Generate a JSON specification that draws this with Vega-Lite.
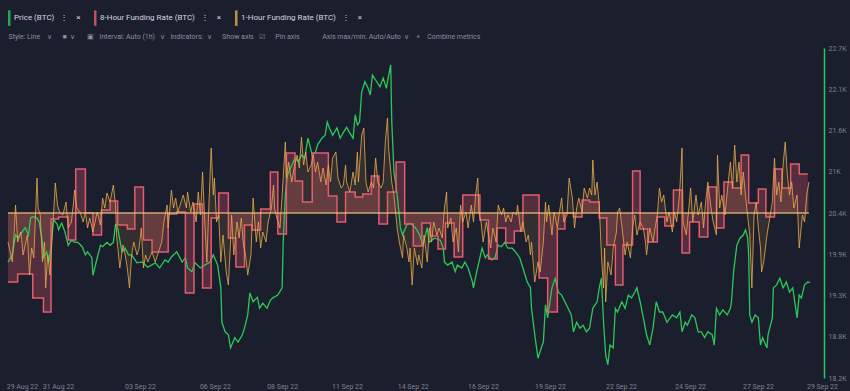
{
"$schema":"https://vega.github.io/schema/vega-lite/v6.json",
"width":816,"height":330,
"autosize":{"type":"none"},
"padding":{"left":8,"top":48,"right":26,"bottom":13},
"background":"#1b1e2c",
"config":{"view":{"stroke":null},"font":"Roboto","axis":{"grid":false}},
"datasets":{
"price":[
{"t":"2022-08-29T08:00","p":19780},{"t":"2022-08-29T12:00","p":19880},{"t":"2022-08-29T15:00","p":20150},{"t":"2022-08-29T17:00","p":20110},{"t":"2022-08-29T21:00","p":20190},
{"t":"2022-08-30T00:00","p":20250},{"t":"2022-08-30T03:00","p":20150},{"t":"2022-08-30T05:00","p":20380},{"t":"2022-08-30T07:00","p":20400},{"t":"2022-08-30T11:00","p":20380},{"t":"2022-08-30T13:00","p":20330},{"t":"2022-08-30T16:00","p":20050},{"t":"2022-08-30T17:00","p":19840},{"t":"2022-08-30T20:00","p":19920},{"t":"2022-08-30T22:00","p":19780},
{"t":"2022-08-31T00:00","p":20010},{"t":"2022-08-31T02:00","p":20330},{"t":"2022-08-31T03:00","p":20350},{"t":"2022-08-31T06:00","p":20290},{"t":"2022-08-31T07:00","p":20220},{"t":"2022-08-31T10:00","p":20310},{"t":"2022-08-31T13:00","p":20190},{"t":"2022-08-31T16:00","p":20010},{"t":"2022-08-31T19:00","p":20080},{"t":"2022-08-31T22:00","p":20050},
{"t":"2022-09-01T01:00","p":20050},{"t":"2022-09-01T05:00","p":19990},{"t":"2022-09-01T08:00","p":19880},{"t":"2022-09-01T10:00","p":19920},{"t":"2022-09-01T14:00","p":19840},{"t":"2022-09-01T15:00","p":19600},{"t":"2022-09-01T19:00","p":19840},{"t":"2022-09-01T22:00","p":20010},
{"t":"2022-09-02T00:00","p":19990},{"t":"2022-09-02T04:00","p":20050},{"t":"2022-09-02T07:00","p":20010},{"t":"2022-09-02T10:00","p":20050},{"t":"2022-09-02T12:00","p":20290},{"t":"2022-09-02T14:00","p":20250},{"t":"2022-09-02T18:00","p":19920},{"t":"2022-09-02T21:00","p":19970},
{"t":"2022-09-03T00:00","p":19880},{"t":"2022-09-03T03:00","p":19880},{"t":"2022-09-03T08:00","p":19770},{"t":"2022-09-03T11:00","p":19780},{"t":"2022-09-03T13:00","p":19780},{"t":"2022-09-03T18:00","p":19710},
{"t":"2022-09-04T01:00","p":19770},{"t":"2022-09-04T05:00","p":19700},{"t":"2022-09-04T10:00","p":19810},{"t":"2022-09-04T13:00","p":19780},{"t":"2022-09-04T16:00","p":19850},{"t":"2022-09-04T21:00","p":19920},
{"t":"2022-09-05T02:00","p":19780},{"t":"2022-09-05T05:00","p":19840},{"t":"2022-09-05T07:00","p":19700},{"t":"2022-09-05T11:00","p":19650},{"t":"2022-09-05T14:00","p":19770},{"t":"2022-09-05T19:00","p":19700},{"t":"2022-09-05T23:00","p":19740},
{"t":"2022-09-06T04:00","p":19780},{"t":"2022-09-06T07:00","p":19880},{"t":"2022-09-06T11:00","p":19740},{"t":"2022-09-06T14:00","p":19430},{"t":"2022-09-06T15:00","p":18960},{"t":"2022-09-06T18:00","p":18830},{"t":"2022-09-06T21:00","p":18790},{"t":"2022-09-06T23:00","p":18610},
{"t":"2022-09-07T03:00","p":18750},{"t":"2022-09-07T06:00","p":18690},{"t":"2022-09-07T10:00","p":18790},{"t":"2022-09-07T12:00","p":18880},{"t":"2022-09-07T15:00","p":19060},{"t":"2022-09-07T17:00","p":19360},{"t":"2022-09-07T20:00","p":19240},
{"t":"2022-09-08T00:00","p":19300},{"t":"2022-09-08T02:00","p":19150},{"t":"2022-09-08T05:00","p":19220},{"t":"2022-09-08T09:00","p":19150},{"t":"2022-09-08T12:00","p":19260},{"t":"2022-09-08T14:00","p":19290},{"t":"2022-09-08T19:00","p":19330},{"t":"2022-09-08T23:00","p":19430},
{"t":"2022-09-09T00:00","p":20050},{"t":"2022-09-09T02:00","p":20700},{"t":"2022-09-09T04:00","p":20970},{"t":"2022-09-09T08:00","p":21100},{"t":"2022-09-09T11:00","p":21200},{"t":"2022-09-09T14:00","p":21150},{"t":"2022-09-09T17:00","p":21240},{"t":"2022-09-09T20:00","p":21200},{"t":"2022-09-09T23:00","p":21470},
{"t":"2022-09-10T03:00","p":21240},{"t":"2022-09-10T06:00","p":21280},{"t":"2022-09-10T08:00","p":21380},{"t":"2022-09-10T12:00","p":21470},{"t":"2022-09-10T15:00","p":21510},{"t":"2022-09-10T17:00","p":21690},{"t":"2022-09-10T19:00","p":21610},{"t":"2022-09-10T22:00","p":21510},
{"t":"2022-09-11T02:00","p":21610},{"t":"2022-09-11T05:00","p":21470},{"t":"2022-09-11T08:00","p":21550},{"t":"2022-09-11T11:00","p":21620},{"t":"2022-09-11T14:00","p":21540},{"t":"2022-09-11T17:00","p":21470},{"t":"2022-09-11T19:00","p":21790},{"t":"2022-09-11T21:00","p":21650},{"t":"2022-09-11T23:00","p":21690},
{"t":"2022-09-12T01:00","p":22100},{"t":"2022-09-12T04:00","p":22240},{"t":"2022-09-12T07:00","p":22150},{"t":"2022-09-12T09:00","p":22060},{"t":"2022-09-12T11:00","p":22330},{"t":"2022-09-12T15:00","p":22240},{"t":"2022-09-12T18:00","p":22170},{"t":"2022-09-12T21:00","p":22290},
{"t":"2022-09-13T00:00","p":22150},{"t":"2022-09-13T01:00","p":22240},{"t":"2022-09-13T04:00","p":22470},{"t":"2022-09-13T05:00","p":21690},{"t":"2022-09-13T07:00","p":21010},{"t":"2022-09-13T10:00","p":20700},{"t":"2022-09-13T13:00","p":20250},{"t":"2022-09-13T15:00","p":20150},{"t":"2022-09-13T19:00","p":20290},{"t":"2022-09-13T22:00","p":20310},
{"t":"2022-09-14T03:00","p":20250},{"t":"2022-09-14T07:00","p":20150},{"t":"2022-09-14T10:00","p":20010},{"t":"2022-09-14T14:00","p":20250},{"t":"2022-09-14T16:00","p":20050},{"t":"2022-09-14T21:00","p":20110},
{"t":"2022-09-15T02:00","p":20080},{"t":"2022-09-15T05:00","p":19970},{"t":"2022-09-15T06:00","p":19780},{"t":"2022-09-15T09:00","p":19740},{"t":"2022-09-15T13:00","p":19780},{"t":"2022-09-15T16:00","p":19650},{"t":"2022-09-15T18:00","p":19740},{"t":"2022-09-15T22:00","p":19700},
{"t":"2022-09-16T01:00","p":19780},{"t":"2022-09-16T04:00","p":19700},{"t":"2022-09-16T08:00","p":19510},{"t":"2022-09-16T09:00","p":19430},{"t":"2022-09-16T12:00","p":19650},{"t":"2022-09-16T15:00","p":19840},{"t":"2022-09-16T17:00","p":19970},{"t":"2022-09-16T20:00","p":19840},{"t":"2022-09-16T22:00","p":19880},
{"t":"2022-09-17T02:00","p":19810},{"t":"2022-09-17T05:00","p":19840},{"t":"2022-09-17T08:00","p":20010},{"t":"2022-09-17T11:00","p":19990},{"t":"2022-09-17T14:00","p":20050},{"t":"2022-09-17T17:00","p":19970},{"t":"2022-09-17T21:00","p":19970},
{"t":"2022-09-18T00:00","p":19920},{"t":"2022-09-18T04:00","p":19840},{"t":"2022-09-18T07:00","p":19700},{"t":"2022-09-18T11:00","p":19510},{"t":"2022-09-18T14:00","p":19430},{"t":"2022-09-18T15:00","p":19150},{"t":"2022-09-18T18:00","p":18790},{"t":"2022-09-18T21:00","p":18470},
{"t":"2022-09-19T00:00","p":18610},{"t":"2022-09-19T02:00","p":18690},{"t":"2022-09-19T04:00","p":19200},{"t":"2022-09-19T06:00","p":19020},{"t":"2022-09-19T10:00","p":19430},{"t":"2022-09-19T13:00","p":19560},{"t":"2022-09-19T16:00","p":19370},{"t":"2022-09-19T19:00","p":19330},{"t":"2022-09-19T22:00","p":19240},
{"t":"2022-09-20T01:00","p":19150},{"t":"2022-09-20T04:00","p":19060},{"t":"2022-09-20T06:00","p":18830},{"t":"2022-09-20T09:00","p":18960},{"t":"2022-09-20T12:00","p":18880},{"t":"2022-09-20T15:00","p":18920},{"t":"2022-09-20T18:00","p":18830},{"t":"2022-09-20T21:00","p":18880},
{"t":"2022-09-21T00:00","p":19150},{"t":"2022-09-21T04:00","p":19240},{"t":"2022-09-21T06:00","p":19430},{"t":"2022-09-21T08:00","p":19560},{"t":"2022-09-21T10:00","p":18960},{"t":"2022-09-21T12:00","p":18510},{"t":"2022-09-21T14:00","p":18380},{"t":"2022-09-21T16:00","p":18650},{"t":"2022-09-21T19:00","p":18610},{"t":"2022-09-21T21:00","p":19150},{"t":"2022-09-21T23:00","p":19100},
{"t":"2022-09-22T03:00","p":19240},{"t":"2022-09-22T06:00","p":19150},{"t":"2022-09-22T09:00","p":19330},{"t":"2022-09-22T12:00","p":19290},{"t":"2022-09-22T15:00","p":19370},{"t":"2022-09-22T17:00","p":19430},{"t":"2022-09-22T20:00","p":19240},{"t":"2022-09-22T23:00","p":19020},
{"t":"2022-09-23T02:00","p":18790},{"t":"2022-09-23T05:00","p":18650},{"t":"2022-09-23T08:00","p":18880},{"t":"2022-09-23T11:00","p":19240},{"t":"2022-09-23T14:00","p":19100},{"t":"2022-09-23T17:00","p":19100},{"t":"2022-09-23T21:00","p":18960},
{"t":"2022-09-24T00:00","p":19020},{"t":"2022-09-24T02:00","p":19060},{"t":"2022-09-24T06:00","p":19020},{"t":"2022-09-24T09:00","p":19100},{"t":"2022-09-24T11:00","p":18830},{"t":"2022-09-24T14:00","p":18960},{"t":"2022-09-24T16:00","p":18920},{"t":"2022-09-24T20:00","p":19060},{"t":"2022-09-24T23:00","p":19020},
{"t":"2022-09-25T02:00","p":18830},{"t":"2022-09-25T05:00","p":18830},{"t":"2022-09-25T08:00","p":18750},{"t":"2022-09-25T11:00","p":18830},{"t":"2022-09-25T15:00","p":18790},{"t":"2022-09-25T17:00","p":18650},{"t":"2022-09-25T19:00","p":19150},{"t":"2022-09-25T22:00","p":19060},
{"t":"2022-09-26T01:00","p":19130},{"t":"2022-09-26T05:00","p":19060},{"t":"2022-09-26T08:00","p":19150},{"t":"2022-09-26T09:00","p":19240},{"t":"2022-09-26T11:00","p":19650},{"t":"2022-09-26T14:00","p":20010},{"t":"2022-09-26T17:00","p":20110},{"t":"2022-09-26T20:00","p":20150},{"t":"2022-09-26T22:00","p":20220},
{"t":"2022-09-27T00:00","p":20120},{"t":"2022-09-27T01:00","p":19880},{"t":"2022-09-27T02:00","p":19060},{"t":"2022-09-27T04:00","p":18960},{"t":"2022-09-27T07:00","p":19060},{"t":"2022-09-27T10:00","p":19020},{"t":"2022-09-27T12:00","p":18650},{"t":"2022-09-27T14:00","p":18750},{"t":"2022-09-27T18:00","p":18610},{"t":"2022-09-27T19:00","p":18790},{"t":"2022-09-27T23:00","p":19020},
{"t":"2022-09-28T00:00","p":19430},{"t":"2022-09-28T03:00","p":19470},{"t":"2022-09-28T06:00","p":19560},{"t":"2022-09-28T09:00","p":19430},{"t":"2022-09-28T12:00","p":19510},{"t":"2022-09-28T15:00","p":19370},{"t":"2022-09-28T18:00","p":19430},{"t":"2022-09-28T22:00","p":19020},
{"t":"2022-09-29T00:00","p":19330},{"t":"2022-09-29T02:00","p":19290},{"t":"2022-09-29T05:00","p":19470},{"t":"2022-09-29T08:00","p":19510},{"t":"2022-09-29T10:00","p":19500}
],
"f8":[
{"t":"2022-08-29T08:00","f":-0.0138},{"t":"2022-08-29T17:00","f":-0.0122},{"t":"2022-08-30T07:00","f":-0.017},{"t":"2022-08-30T17:00","f":-0.0198},{"t":"2022-08-31T00:00","f":-0.0012},{"t":"2022-08-31T07:00","f":-0.0008},{"t":"2022-08-31T16:00","f":-0.0054},{"t":"2022-08-31T23:00","f":0.0088},
{"t":"2022-09-01T08:00","f":0.0},{"t":"2022-09-01T15:00","f":-0.0044},{"t":"2022-09-01T23:00","f":0.0006},{"t":"2022-09-02T07:00","f":0.0024},{"t":"2022-09-02T14:00","f":-0.0024},{"t":"2022-09-02T23:00","f":-0.0032},{"t":"2022-09-03T06:00","f":0.0052},{"t":"2022-09-03T14:00","f":-0.0054},{"t":"2022-09-03T22:00","f":-0.0078},
{"t":"2022-09-04T13:00","f":-0.0002},{"t":"2022-09-04T21:00","f":0.0002},{"t":"2022-09-05T05:00","f":-0.016},{"t":"2022-09-05T13:00","f":0.0018},{"t":"2022-09-05T21:00","f":-0.015},{"t":"2022-09-06T05:00","f":-0.001},{"t":"2022-09-06T12:00","f":0.004},{"t":"2022-09-06T21:00","f":-0.005},
{"t":"2022-09-07T04:00","f":-0.0108},{"t":"2022-09-07T12:00","f":-0.0024},{"t":"2022-09-07T19:00","f":-0.0034},{"t":"2022-09-08T03:00","f":0.0008},{"t":"2022-09-08T12:00","f":0.0082},{"t":"2022-09-08T19:00","f":-0.0042},{"t":"2022-09-09T03:00","f":0.012},{"t":"2022-09-09T11:00","f":0.0064},{"t":"2022-09-09T18:00","f":0.0022},
{"t":"2022-09-10T03:00","f":0.012},{"t":"2022-09-10T18:00","f":0.0034},{"t":"2022-09-11T02:00","f":-0.0018},{"t":"2022-09-11T10:00","f":0.0042},{"t":"2022-09-11T19:00","f":0.0032},{"t":"2022-09-12T02:00","f":0.0038},{"t":"2022-09-12T10:00","f":0.0074},{"t":"2022-09-12T17:00","f":-0.0022},
{"t":"2022-09-13T01:00","f":0.0042},{"t":"2022-09-13T09:00","f":0.0102},{"t":"2022-09-13T17:00","f":-0.0022},{"t":"2022-09-14T01:00","f":-0.0066},{"t":"2022-09-14T09:00","f":-0.002},{"t":"2022-09-14T17:00","f":-0.0046},{"t":"2022-09-15T00:00","f":-0.0072},{"t":"2022-09-15T07:00","f":-0.002},{"t":"2022-09-15T15:00","f":-0.0088},{"t":"2022-09-15T23:00","f":0.0036},
{"t":"2022-09-16T15:00","f":-0.0014},{"t":"2022-09-16T23:00","f":-0.0092},{"t":"2022-09-17T07:00","f":-0.003},{"t":"2022-09-17T15:00","f":-0.006},{"t":"2022-09-17T23:00","f":-0.0036},{"t":"2022-09-18T07:00","f":0.0036},{"t":"2022-09-18T22:00","f":-0.013},
{"t":"2022-09-19T06:00","f":-0.0198},{"t":"2022-09-19T15:00","f":-0.0032},{"t":"2022-09-19T22:00","f":0.0},{"t":"2022-09-20T06:00","f":-0.0008},{"t":"2022-09-20T14:00","f":0.0026},{"t":"2022-09-20T21:00","f":0.0022},
{"t":"2022-09-21T06:00","f":-0.001},{"t":"2022-09-21T13:00","f":-0.0064},{"t":"2022-09-21T21:00","f":-0.0144},{"t":"2022-09-22T04:00","f":-0.0064},{"t":"2022-09-22T13:00","f":0.0084},{"t":"2022-09-22T20:00","f":-0.0032},
{"t":"2022-09-23T03:00","f":-0.0058},{"t":"2022-09-23T12:00","f":-0.0008},{"t":"2022-09-23T19:00","f":-0.0026},{"t":"2022-09-24T03:00","f":0.0046},{"t":"2022-09-24T11:00","f":-0.008},{"t":"2022-09-24T18:00","f":-0.0018},
{"t":"2022-09-25T03:00","f":-0.0048},{"t":"2022-09-25T11:00","f":0.0052},{"t":"2022-09-25T19:00","f":-0.003},{"t":"2022-09-26T02:00","f":0.0062},{"t":"2022-09-26T10:00","f":0.005},{"t":"2022-09-26T18:00","f":0.0116},
{"t":"2022-09-27T01:00","f":0.002},{"t":"2022-09-27T10:00","f":0.0048},{"t":"2022-09-27T17:00","f":-0.0008},{"t":"2022-09-28T01:00","f":0.0088},{"t":"2022-09-28T08:00","f":0.005},{"t":"2022-09-28T16:00","f":0.0098},{"t":"2022-09-29T00:00","f":0.0078},{"t":"2022-09-29T08:00","f":0.0078}
],
"f1":[
{"t":"2022-08-29T08:00","f":-0.0058},{"t":"2022-08-29T12:00","f":-0.0098},{"t":"2022-08-29T14:00","f":-0.003},{"t":"2022-08-29T15:00","f":0.0016},{"t":"2022-08-29T17:00","f":-0.0058},{"t":"2022-08-29T20:00","f":-0.0038},{"t":"2022-08-29T22:00","f":-0.0084},
{"t":"2022-08-30T02:00","f":-0.0044},{"t":"2022-08-30T04:00","f":-0.0124},{"t":"2022-08-30T06:00","f":-0.007},{"t":"2022-08-30T08:00","f":-0.009},{"t":"2022-08-30T11:00","f":0.007},{"t":"2022-08-30T12:00","f":0.001},{"t":"2022-08-30T14:00","f":-0.0004},{"t":"2022-08-30T16:00","f":-0.0098},{"t":"2022-08-30T18:00","f":-0.0058},{"t":"2022-08-30T19:00","f":-0.015},{"t":"2022-08-30T21:00","f":-0.0084},{"t":"2022-08-30T23:00","f":-0.0124},
{"t":"2022-08-31T02:00","f":-0.0018},{"t":"2022-08-31T04:00","f":0.006},{"t":"2022-08-31T06:00","f":0.0016},{"t":"2022-08-31T08:00","f":0.0002},{"t":"2022-08-31T11:00","f":-0.0004},{"t":"2022-08-31T14:00","f":0.0022},{"t":"2022-08-31T16:00","f":-0.003},{"t":"2022-08-31T19:00","f":-0.0018},{"t":"2022-08-31T21:00","f":0.0022},{"t":"2022-08-31T22:00","f":0.0046},
{"t":"2022-09-01T00:00","f":0.001},{"t":"2022-09-01T03:00","f":0.0002},{"t":"2022-09-01T06:00","f":-0.0018},{"t":"2022-09-01T08:00","f":0.0002},{"t":"2022-09-01T10:00","f":-0.003},{"t":"2022-09-01T12:00","f":-0.001},{"t":"2022-09-01T15:00","f":-0.0038},{"t":"2022-09-01T17:00","f":-0.0018},{"t":"2022-09-01T19:00","f":0.0002},{"t":"2022-09-01T22:00","f":-0.0024},
{"t":"2022-09-02T00:00","f":0.003},{"t":"2022-09-02T02:00","f":0.001},{"t":"2022-09-02T04:00","f":0.004},{"t":"2022-09-02T07:00","f":0.0022},{"t":"2022-09-02T10:00","f":0.0056},{"t":"2022-09-02T12:00","f":0.0016},{"t":"2022-09-02T13:00","f":-0.0044},{"t":"2022-09-02T16:00","f":-0.011},{"t":"2022-09-02T19:00","f":-0.0064},{"t":"2022-09-02T21:00","f":-0.0084},{"t":"2022-09-02T23:00","f":-0.011},
{"t":"2022-09-03T01:00","f":-0.015},{"t":"2022-09-03T03:00","f":-0.0084},{"t":"2022-09-03T05:00","f":-0.0058},{"t":"2022-09-03T08:00","f":-0.0084},{"t":"2022-09-03T10:00","f":-0.007},{"t":"2022-09-03T12:00","f":-0.003},{"t":"2022-09-03T14:00","f":-0.011},{"t":"2022-09-03T16:00","f":-0.0084},{"t":"2022-09-03T18:00","f":-0.0098},{"t":"2022-09-03T22:00","f":-0.0078},
{"t":"2022-09-04T01:00","f":-0.0098},{"t":"2022-09-04T04:00","f":-0.0078},{"t":"2022-09-04T07:00","f":-0.0058},{"t":"2022-09-04T09:00","f":-0.0018},{"t":"2022-09-04T12:00","f":0.0016},{"t":"2022-09-04T13:00","f":-0.003},{"t":"2022-09-04T16:00","f":0.0046},{"t":"2022-09-04T18:00","f":0.001},{"t":"2022-09-04T20:00","f":0.003},{"t":"2022-09-04T22:00","f":0.0002},
{"t":"2022-09-05T01:00","f":0.0022},{"t":"2022-09-05T03:00","f":0.0036},{"t":"2022-09-05T06:00","f":0.001},{"t":"2022-09-05T07:00","f":0.0042},{"t":"2022-09-05T10:00","f":0.0002},{"t":"2022-09-05T12:00","f":0.0022},{"t":"2022-09-05T15:00","f":-0.0018},{"t":"2022-09-05T17:00","f":0.0042},{"t":"2022-09-05T19:00","f":-0.0004},{"t":"2022-09-05T21:00","f":0.0082},{"t":"2022-09-05T23:00","f":-0.0018},
{"t":"2022-09-06T01:00","f":-0.0098},{"t":"2022-09-06T03:00","f":0.0022},{"t":"2022-09-06T05:00","f":0.013},{"t":"2022-09-06T07:00","f":0.0036},{"t":"2022-09-06T08:00","f":0.007},{"t":"2022-09-06T10:00","f":-0.0018},{"t":"2022-09-06T12:00","f":-0.0004},{"t":"2022-09-06T14:00","f":-0.0098},{"t":"2022-09-06T16:00","f":-0.0044},{"t":"2022-09-06T19:00","f":-0.0118},{"t":"2022-09-06T21:00","f":-0.0144},{"t":"2022-09-06T23:00","f":-0.0058},
{"t":"2022-09-07T00:00","f":-0.0004},{"t":"2022-09-07T02:00","f":-0.0084},{"t":"2022-09-07T05:00","f":-0.0018},{"t":"2022-09-07T07:00","f":-0.005},{"t":"2022-09-07T09:00","f":-0.001},{"t":"2022-09-07T11:00","f":-0.0064},{"t":"2022-09-07T13:00","f":-0.0084},{"t":"2022-09-07T15:00","f":-0.0124},{"t":"2022-09-07T18:00","f":-0.0084},{"t":"2022-09-07T20:00","f":0.003},{"t":"2022-09-07T23:00","f":-0.0058},
{"t":"2022-09-08T01:00","f":-0.0018},{"t":"2022-09-08T03:00","f":-0.007},{"t":"2022-09-08T05:00","f":-0.0038},{"t":"2022-09-08T08:00","f":-0.0058},{"t":"2022-09-08T10:00","f":-0.0018},{"t":"2022-09-08T13:00","f":0.001},{"t":"2022-09-08T15:00","f":0.0056},{"t":"2022-09-08T16:00","f":0.001},{"t":"2022-09-08T18:00","f":-0.001},{"t":"2022-09-08T21:00","f":-0.003},{"t":"2022-09-08T23:00","f":0.0036},
{"t":"2022-09-09T02:00","f":0.0142},{"t":"2022-09-09T03:00","f":0.007},{"t":"2022-09-09T05:00","f":0.0102},{"t":"2022-09-09T08:00","f":0.0062},{"t":"2022-09-09T10:00","f":0.009},{"t":"2022-09-09T13:00","f":0.0116},{"t":"2022-09-09T15:00","f":0.009},{"t":"2022-09-09T17:00","f":0.0152},{"t":"2022-09-09T19:00","f":0.0096},{"t":"2022-09-09T21:00","f":0.0122},{"t":"2022-09-09T23:00","f":0.0082},
{"t":"2022-09-10T02:00","f":0.0096},{"t":"2022-09-10T04:00","f":0.0116},{"t":"2022-09-10T06:00","f":0.0082},{"t":"2022-09-10T08:00","f":0.0102},{"t":"2022-09-10T11:00","f":0.0062},{"t":"2022-09-10T13:00","f":0.009},{"t":"2022-09-10T16:00","f":0.0056},{"t":"2022-09-10T18:00","f":0.0096},{"t":"2022-09-10T20:00","f":0.0062},{"t":"2022-09-10T22:00","f":0.011},
{"t":"2022-09-11T01:00","f":0.0122},{"t":"2022-09-11T03:00","f":0.007},{"t":"2022-09-11T06:00","f":0.005},{"t":"2022-09-11T08:00","f":0.0056},{"t":"2022-09-11T10:00","f":0.0096},{"t":"2022-09-11T11:00","f":0.0062},{"t":"2022-09-11T14:00","f":0.0042},{"t":"2022-09-11T17:00","f":0.0082},{"t":"2022-09-11T19:00","f":0.0056},{"t":"2022-09-11T21:00","f":0.0122},{"t":"2022-09-11T22:00","f":0.0062},
{"t":"2022-09-12T01:00","f":0.0156},{"t":"2022-09-12T03:00","f":0.017},{"t":"2022-09-12T05:00","f":0.0062},{"t":"2022-09-12T07:00","f":0.0042},{"t":"2022-09-12T10:00","f":0.0062},{"t":"2022-09-12T12:00","f":0.005},{"t":"2022-09-12T14:00","f":0.011},{"t":"2022-09-12T16:00","f":0.0062},{"t":"2022-09-12T19:00","f":0.005},{"t":"2022-09-12T21:00","f":0.0062},{"t":"2022-09-12T23:00","f":0.0142},
{"t":"2022-09-13T01:00","f":0.019},{"t":"2022-09-13T02:00","f":0.013},{"t":"2022-09-13T05:00","f":0.0062},{"t":"2022-09-13T07:00","f":0.0036},{"t":"2022-09-13T10:00","f":-0.003},{"t":"2022-09-13T12:00","f":-0.0058},{"t":"2022-09-13T15:00","f":-0.009},{"t":"2022-09-13T16:00","f":-0.0044},{"t":"2022-09-13T19:00","f":-0.007},{"t":"2022-09-13T21:00","f":-0.0098},{"t":"2022-09-13T22:00","f":-0.007},
{"t":"2022-09-14T00:00","f":-0.0144},{"t":"2022-09-14T02:00","f":-0.007},{"t":"2022-09-14T05:00","f":-0.0104},{"t":"2022-09-14T06:00","f":-0.0084},{"t":"2022-09-14T09:00","f":-0.011},{"t":"2022-09-14T11:00","f":-0.0044},{"t":"2022-09-14T14:00","f":-0.0098},{"t":"2022-09-14T16:00","f":-0.003},{"t":"2022-09-14T18:00","f":-0.0058},{"t":"2022-09-14T20:00","f":-0.0018},{"t":"2022-09-14T23:00","f":-0.0044},
{"t":"2022-09-15T01:00","f":-0.003},{"t":"2022-09-15T04:00","f":-0.005},{"t":"2022-09-15T06:00","f":0.001},{"t":"2022-09-15T08:00","f":0.0042},{"t":"2022-09-15T09:00","f":-0.003},{"t":"2022-09-15T12:00","f":-0.001},{"t":"2022-09-15T14:00","f":-0.0058},{"t":"2022-09-15T17:00","f":-0.003},{"t":"2022-09-15T19:00","f":-0.0078},{"t":"2022-09-15T21:00","f":0.0016},{"t":"2022-09-15T23:00","f":-0.0018},
{"t":"2022-09-16T02:00","f":0.0002},{"t":"2022-09-16T04:00","f":-0.003},{"t":"2022-09-16T07:00","f":0.0016},{"t":"2022-09-16T09:00","f":-0.0018},{"t":"2022-09-16T11:00","f":0.0036},{"t":"2022-09-16T13:00","f":0.007},{"t":"2022-09-16T14:00","f":0.0002},{"t":"2022-09-16T16:00","f":-0.0018},{"t":"2022-09-16T18:00","f":-0.0058},{"t":"2022-09-16T21:00","f":-0.0018},{"t":"2022-09-16T23:00","f":-0.0044},
{"t":"2022-09-17T01:00","f":-0.007},{"t":"2022-09-17T03:00","f":-0.003},{"t":"2022-09-17T06:00","f":-0.0058},{"t":"2022-09-17T08:00","f":0.0016},{"t":"2022-09-17T11:00","f":-0.0004},{"t":"2022-09-17T13:00","f":0.001},{"t":"2022-09-17T15:00","f":-0.0018},{"t":"2022-09-17T17:00","f":-0.0004},{"t":"2022-09-17T20:00","f":-0.0018},{"t":"2022-09-17T22:00","f":0.0002},
{"t":"2022-09-18T01:00","f":-0.0004},{"t":"2022-09-18T02:00","f":0.0016},{"t":"2022-09-18T05:00","f":-0.0038},{"t":"2022-09-18T07:00","f":-0.0018},{"t":"2022-09-18T10:00","f":-0.0058},{"t":"2022-09-18T12:00","f":-0.0044},{"t":"2022-09-18T14:00","f":-0.0084},{"t":"2022-09-18T15:00","f":-0.0058},{"t":"2022-09-18T18:00","f":-0.0138},{"t":"2022-09-18T21:00","f":-0.0098},{"t":"2022-09-18T23:00","f":-0.0118},
{"t":"2022-09-19T02:00","f":-0.0058},{"t":"2022-09-19T04:00","f":0.0022},{"t":"2022-09-19T05:00","f":-0.0018},{"t":"2022-09-19T07:00","f":0.0016},{"t":"2022-09-19T10:00","f":-0.0044},{"t":"2022-09-19T12:00","f":0.0002},{"t":"2022-09-19T15:00","f":-0.003},{"t":"2022-09-19T17:00","f":0.0002},{"t":"2022-09-19T19:00","f":0.003},{"t":"2022-09-19T21:00","f":-0.0018},
{"t":"2022-09-20T00:00","f":-0.0004},{"t":"2022-09-20T02:00","f":0.007},{"t":"2022-09-20T05:00","f":0.003},{"t":"2022-09-20T07:00","f":-0.003},{"t":"2022-09-20T09:00","f":0.001},{"t":"2022-09-20T11:00","f":0.003},{"t":"2022-09-20T14:00","f":0.0002},{"t":"2022-09-20T16:00","f":0.005},{"t":"2022-09-20T19:00","f":0.003},{"t":"2022-09-20T21:00","f":0.005},{"t":"2022-09-20T23:00","f":0.0036},
{"t":"2022-09-21T00:00","f":0.0106},{"t":"2022-09-21T02:00","f":0.0036},{"t":"2022-09-21T04:00","f":0.0062},{"t":"2022-09-21T06:00","f":0.0016},{"t":"2022-09-21T08:00","f":-0.0084},{"t":"2022-09-21T10:00","f":-0.015},{"t":"2022-09-21T11:00","f":-0.007},{"t":"2022-09-21T12:00","f":-0.0178},{"t":"2022-09-21T14:00","f":-0.0098},{"t":"2022-09-21T17:00","f":-0.0124},{"t":"2022-09-21T19:00","f":-0.007},{"t":"2022-09-21T22:00","f":-0.0038},{"t":"2022-09-21T23:00","f":0.0002},
{"t":"2022-09-22T01:00","f":0.001},{"t":"2022-09-22T04:00","f":-0.0044},{"t":"2022-09-22T06:00","f":-0.0084},{"t":"2022-09-22T08:00","f":-0.0058},{"t":"2022-09-22T11:00","f":-0.009},{"t":"2022-09-22T13:00","f":-0.003},{"t":"2022-09-22T15:00","f":-0.0004},{"t":"2022-09-22T17:00","f":-0.0044},{"t":"2022-09-22T20:00","f":-0.0018},{"t":"2022-09-22T23:00","f":-0.003},
{"t":"2022-09-23T01:00","f":-0.0058},{"t":"2022-09-23T02:00","f":-0.0084},{"t":"2022-09-23T05:00","f":-0.003},{"t":"2022-09-23T08:00","f":-0.0058},{"t":"2022-09-23T10:00","f":-0.003},{"t":"2022-09-23T12:00","f":-0.0004},{"t":"2022-09-23T14:00","f":0.005},{"t":"2022-09-23T16:00","f":0.0022},{"t":"2022-09-23T18:00","f":0.0036},{"t":"2022-09-23T21:00","f":-0.0018},{"t":"2022-09-23T23:00","f":0.0002},
{"t":"2022-09-24T02:00","f":-0.0038},{"t":"2022-09-24T04:00","f":0.0002},{"t":"2022-09-24T06:00","f":-0.0018},{"t":"2022-09-24T08:00","f":0.0022},{"t":"2022-09-24T09:00","f":0.005},{"t":"2022-09-24T11:00","f":0.013},{"t":"2022-09-24T12:00","f":-0.0018},{"t":"2022-09-24T15:00","f":-0.0044},{"t":"2022-09-24T17:00","f":0.0002},{"t":"2022-09-24T19:00","f":0.005},{"t":"2022-09-24T21:00","f":-0.0018},
{"t":"2022-09-25T00:00","f":0.0036},{"t":"2022-09-25T02:00","f":-0.0004},{"t":"2022-09-25T05:00","f":0.0022},{"t":"2022-09-25T07:00","f":-0.003},{"t":"2022-09-25T09:00","f":0.0022},{"t":"2022-09-25T11:00","f":0.0062},{"t":"2022-09-25T14:00","f":0.001},{"t":"2022-09-25T16:00","f":-0.0018},{"t":"2022-09-25T19:00","f":-0.0044},{"t":"2022-09-25T20:00","f":0.0116},{"t":"2022-09-25T22:00","f":0.001},
{"t":"2022-09-26T00:00","f":0.0036},{"t":"2022-09-26T03:00","f":-0.0004},{"t":"2022-09-26T06:00","f":0.0062},{"t":"2022-09-26T08:00","f":0.0102},{"t":"2022-09-26T10:00","f":0.005},{"t":"2022-09-26T12:00","f":0.0136},{"t":"2022-09-26T14:00","f":0.0062},{"t":"2022-09-26T16:00","f":0.0102},{"t":"2022-09-26T18:00","f":0.0036},{"t":"2022-09-26T20:00","f":0.0082},{"t":"2022-09-26T22:00","f":0.0036},
{"t":"2022-09-27T00:00","f":-0.0004},{"t":"2022-09-27T02:00","f":-0.0044},{"t":"2022-09-27T04:00","f":-0.015},{"t":"2022-09-27T06:00","f":-0.0004},{"t":"2022-09-27T08:00","f":0.0022},{"t":"2022-09-27T10:00","f":-0.003},{"t":"2022-09-27T12:00","f":-0.007},{"t":"2022-09-27T13:00","f":-0.0118},{"t":"2022-09-27T15:00","f":-0.0098},{"t":"2022-09-27T18:00","f":-0.0044},{"t":"2022-09-27T20:00","f":-0.0018},{"t":"2022-09-27T23:00","f":0.0022},
{"t":"2022-09-28T01:00","f":0.011},{"t":"2022-09-28T03:00","f":0.0036},{"t":"2022-09-28T05:00","f":0.0062},{"t":"2022-09-28T07:00","f":0.0022},{"t":"2022-09-28T09:00","f":0.0096},{"t":"2022-09-28T11:00","f":0.0142},{"t":"2022-09-28T13:00","f":0.0076},{"t":"2022-09-28T15:00","f":0.0036},{"t":"2022-09-28T17:00","f":0.0062},{"t":"2022-09-28T19:00","f":0.001},{"t":"2022-09-28T22:00","f":0.0036},
{"t":"2022-09-29T00:00","f":-0.007},{"t":"2022-09-29T03:00","f":-0.0004},{"t":"2022-09-29T05:00","f":-0.0018},{"t":"2022-09-29T07:00","f":0.0036},{"t":"2022-09-29T09:00","f":0.0062}
]
},
"layer":[
{"mark":{"type":"text","text":"santiment","fontSize":52,"font":"Roboto","fontWeight":"bold","color":"#ffffff","opacity":0.035,"align":"center","baseline":"middle"},
 "encoding":{
  "x":{"datum":{"year":2022,"month":9,"date":14,"hours":7},"type":"temporal","axis":null,"scale":{"domain":[{"year":2022,"month":8,"date":29,"hours":8},{"year":2022,"month":9,"date":29,"hours":23,"minutes":4}]}},
  "y":{"datum":0,"type":"quantitative","axis":null,"scale":{"domain":[-0.033,0.033],"nice":false,"zero":false}}}},
{"data":{"name":"f8"},
 "mark":{"type":"area","interpolate":"step-after","color":"#d9556a","opacity":0.3},
 "encoding":{
  "x":{"field":"t","type":"temporal","axis":null,"scale":{"domain":[{"year":2022,"month":8,"date":29,"hours":8},{"year":2022,"month":9,"date":29,"hours":23,"minutes":4}]}},
  "y":{"field":"f","type":"quantitative","axis":null,"scale":{"domain":[-0.033,0.033],"nice":false,"zero":false}},
  "y2":{"datum":0}}},
{"data":{"name":"f1"},
 "mark":{"type":"area","interpolate":"linear","color":"#e8a84c","opacity":0.12},
 "encoding":{
  "x":{"field":"t","type":"temporal","axis":null,"scale":{"domain":[{"year":2022,"month":8,"date":29,"hours":8},{"year":2022,"month":9,"date":29,"hours":23,"minutes":4}]}},
  "y":{"field":"f","type":"quantitative","axis":null,"scale":{"domain":[-0.033,0.033],"nice":false,"zero":false}},
  "y2":{"datum":0}}},
{"data":{"name":"price"},
 "mark":{"type":"line","strokeWidth":1.3},
 "encoding":{
  "x":{"field":"t","type":"temporal","scale":{"domain":[{"year":2022,"month":8,"date":29,"hours":8},{"year":2022,"month":9,"date":29,"hours":23,"minutes":4}]},
   "axis":{"orient":"bottom","title":null,"domain":false,"ticks":false,"grid":false,"format":"%d %b %y","labelColor":"#7d8293","labelFontSize":7,"labelPadding":4,"labelFlush":false,"labelOverlap":false,
    "values":[{"year":2022,"month":8,"date":29,"hours":21},{"year":2022,"month":8,"date":31,"hours":6,"minutes":30},{"year":2022,"month":9,"date":3,"hours":10,"minutes":45},{"year":2022,"month":9,"date":6,"hours":8,"minutes":30},{"year":2022,"month":9,"date":8,"hours":23},{"year":2022,"month":9,"date":11,"hours":11,"minutes":20},{"year":2022,"month":9,"date":14,"hours":0,"minutes":30},{"year":2022,"month":9,"date":16,"hours":17,"minutes":50},{"year":2022,"month":9,"date":19,"hours":8,"minutes":10},{"year":2022,"month":9,"date":22,"hours":2,"minutes":15},{"year":2022,"month":9,"date":24,"hours":18,"minutes":25},{"year":2022,"month":9,"date":27,"hours":9,"minutes":40},{"year":2022,"month":9,"date":29,"hours":21,"minutes":10}]}},
  "y":{"field":"p","type":"quantitative","scale":{"domain":[18200,22700],"nice":false,"zero":false},
   "axis":{"orient":"right","title":null,"grid":false,"ticks":false,"domain":true,"domainColor":"#2bc75a","domainWidth":1.5,"labelColor":"#7d8293","labelFontSize":7,"labelPadding":4,"labelFlush":false,
    "values":[18200,18762.5,19325,19887.5,20450,21012.5,21575,22137.5,22700],
    "labelExpr":"format(datum.value/1000, '.1~f') + 'K'"}},
  "color":{"datum":"Price (BTC)","scale":{"domain":["Price (BTC)","8-Hour Funding Rate (BTC)","1-Hour Funding Rate (BTC)"],"range":["#2bc95a","#e25d6e","#e8aa4e"]},
   "legend":{"orient":"top","direction":"horizontal","title":null,"labelColor":"#d4d7e0","labelFontSize":8,"symbolType":"M-1,-1L-1,1","symbolStrokeWidth":2.5,"symbolSize":240,"columnPadding":9,"labelOffset":-12,"offset":1,"padding":0,"labelExpr":"datum.label + '\u00a0\u00a0\u00a0⋮\u00a0\u00a0\u00a0\u00a0×'"}}}},
{"data":{"name":"f8"},
 "mark":{"type":"line","interpolate":"step-after","strokeWidth":1.5},
 "encoding":{
  "x":{"field":"t","type":"temporal","axis":null,"scale":{"domain":[{"year":2022,"month":8,"date":29,"hours":8},{"year":2022,"month":9,"date":29,"hours":23,"minutes":4}]}},
  "y":{"field":"f","type":"quantitative","axis":null,"scale":{"domain":[-0.033,0.033],"nice":false,"zero":false}},
  "color":{"datum":"8-Hour Funding Rate (BTC)"}}},
{"data":{"name":"f1"},
 "mark":{"type":"line","strokeWidth":1,"opacity":0.8},
 "encoding":{
  "x":{"field":"t","type":"temporal","scale":{"domain":[{"year":2022,"month":8,"date":29,"hours":8},{"year":2022,"month":9,"date":29,"hours":23,"minutes":4}]},
   "axis":{"orient":"top","labels":false,"ticks":false,"domain":false,"grid":false,"title":"Style: Line\u00a0\u00a0\u00a0\u00a0∨\u00a0\u00a0\u00a0\u00a0\u00a0\u00a0■\u00a0\u00a0∨\u00a0\u00a0\u00a0\u00a0\u00a0\u00a0\u00a0▣\u00a0\u00a0\u00a0Interval: Auto (1h)\u00a0\u00a0\u00a0∨\u00a0\u00a0\u00a0Indicators:\u00a0\u00a0∨\u00a0\u00a0\u00a0\u00a0\u00a0\u00a0Show axis\u00a0\u00a0\u00a0☑\u00a0\u00a0\u00a0\u00a0\u00a0\u00a0Pin axis\u00a0\u00a0\u00a0\u00a0\u00a0\u00a0\u00a0\u00a0\u00a0\u00a0\u00a0\u00a0\u00a0Axis max/min: Auto/Auto\u00a0\u00a0∨\u00a0\u00a0\u00a0\u00a0+\u00a0\u00a0\u00a0\u00a0Combine metrics","titleAnchor":"start","titleAlign":"left","titleColor":"#8b90a1","titleFontSize":7,"titleFontWeight":"normal","titlePadding":9}},
  "y":{"field":"f","type":"quantitative","axis":null,"scale":{"domain":[-0.033,0.033],"nice":false,"zero":false}},
  "color":{"datum":"1-Hour Funding Rate (BTC)"}}},
{"data":{"name":"f1"},
 "mark":{"type":"line","color":"#e9bb7c","strokeWidth":1.6,"opacity":0.85},
 "encoding":{
  "x":{"field":"t","type":"temporal","axis":null,"scale":{"domain":[{"year":2022,"month":8,"date":29,"hours":8},{"year":2022,"month":9,"date":29,"hours":23,"minutes":4}]}},
  "y":{"datum":0,"type":"quantitative","axis":null,"scale":{"domain":[-0.033,0.033],"nice":false,"zero":false}}}},
{"data":{"name":"price"},
 "transform":[{"filter":"datum.t == '2022-09-29T10:00'"}],
 "mark":{"type":"point","shape":"M-1,-0.38H1V0.38H-1Z","filled":true,"opacity":1,"color":"#2bc95a","size":460,"xOffset":29},
 "encoding":{
  "x":{"field":"t","type":"temporal","axis":null,"scale":{"domain":[{"year":2022,"month":8,"date":29,"hours":8},{"year":2022,"month":9,"date":29,"hours":23,"minutes":4}]}},
  "y":{"field":"p","type":"quantitative","axis":null,"scale":{"domain":[18200,22700],"nice":false,"zero":false}}}},
{"data":{"name":"price"},
 "transform":[{"filter":"datum.t == '2022-09-29T10:00'"}],
 "mark":{"type":"text","xOffset":29,"fontSize":7,"color":"#e9fff0","align":"center","baseline":"middle"},
 "encoding":{
  "x":{"field":"t","type":"temporal","axis":null,"scale":{"domain":[{"year":2022,"month":8,"date":29,"hours":8},{"year":2022,"month":9,"date":29,"hours":23,"minutes":4}]}},
  "y":{"field":"p","type":"quantitative","axis":null,"scale":{"domain":[18200,22700],"nice":false,"zero":false}},
  "text":{"value":"19.5K"}}}
],
"resolve":{"scale":{"y":"independent"},"axis":{"x":"independent"}}
}
